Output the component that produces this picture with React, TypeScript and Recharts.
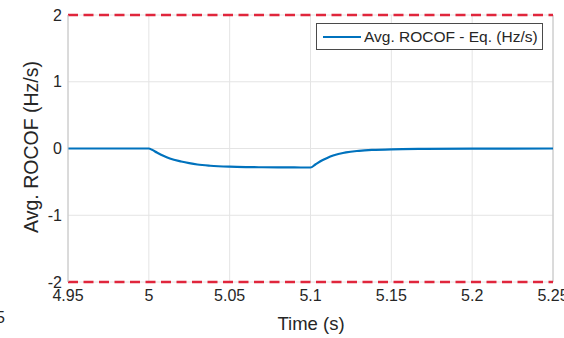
import { LineChart, Line, XAxis, YAxis, CartesianGrid, ReferenceLine, Legend } from 'recharts';

const TIME = [4.95, 5.0, 5.002, 5.005, 5.009, 5.013, 5.02, 5.025, 5.03, 5.038, 5.05, 5.06, 5.07, 5.08, 5.09, 5.1,
  5.103, 5.107, 5.11, 5.114, 5.118, 5.122, 5.13, 5.138, 5.15, 5.17, 5.2, 5.25];
const ROCOF = [0, 0, -0.02, -0.06, -0.11, -0.15, -0.195, -0.22, -0.24, -0.258, -0.272, -0.278, -0.281, -0.283, -0.284, -0.285,
  -0.24, -0.18, -0.145, -0.105, -0.078, -0.057, -0.035, -0.022, -0.012, -0.006, -0.003, 0];

const X_TICKS = [4.95, 5, 5.05, 5.1, 5.15, 5.2, 5.25];
const Y_TICKS = [-2, -1, 0, 1, 2];
const LIMITS = [2, -2];

const SERIES_NAME = 'Avg. ROCOF - Eq. (Hz/s)';
const FONT = '"Liberation Sans", Arial, sans-serif';
const TEXT_COLOR = '#262626';

const data = TIME.map((t, i) => ({ t, v: ROCOF[i] }));

function LegendBox({ payload }: any) {
  const item = payload?.[0];
  if (!item) return null;
  return (
    <div
      style={{
        width: 225,
        height: 25,
        border: '1px solid #4a4a4a',
        background: '#fff',
        display: 'flex',
        alignItems: 'center',
        fontFamily: FONT,
        fontSize: 15.5,
        color: TEXT_COLOR,
        boxSizing: 'content-box',
      }}
    >
      <svg width={42} height={10} style={{ marginLeft: 4 }}>
        <line x1={2} y1={5} x2={40} y2={5} stroke={item.color} strokeWidth={2.2} />
      </svg>
      <span style={{ marginLeft: 1, whiteSpace: 'nowrap' }}>{SERIES_NAME}</span>
    </div>
  );
}

export default function App() {
  return (
    <div style={{ position: 'absolute', left: 0, top: 0, width: 564, height: 338, background: '#fff', overflow: 'hidden' }}>
      <LineChart width={564} height={338} data={data} margin={{ top: 15, right: 11, bottom: 0, left: 0 }}>
        <CartesianGrid stroke="#e4e4e4" strokeWidth={1} />
        <XAxis
          dataKey="t"
          type="number"
          domain={[4.95, 5.25]}
          ticks={X_TICKS}
          tickFormatter={(v) => String(v)}
          height={56}
          axisLine={false}
          tickLine={false}
          tickSize={0}
          tickMargin={8}
          tick={{ fill: TEXT_COLOR, fontSize: 16, fontFamily: FONT }}
          interval={0}
          label={{
            content: () => (
              <text x={311} y={330} textAnchor="middle" fill={TEXT_COLOR} fontSize={18.5} fontFamily={FONT}>
                Time (s)
              </text>
            ),
          }}
        />
        <YAxis
          type="number"
          domain={[-2, 2]}
          ticks={Y_TICKS}
          width={68}
          axisLine={{ stroke: '#c4c4c4' }}
          tickLine={false}
          tickSize={0}
          tickMargin={6}
          tick={{ fill: TEXT_COLOR, fontSize: 16, fontFamily: FONT }}
          interval={0}
          label={{
            content: () => (
              <text
                x={31}
                y={147}
                transform="rotate(-90 31 147)"
                textAnchor="middle"
                dominantBaseline="central"
                fill={TEXT_COLOR}
                fontSize={19.5}
                fontFamily={FONT}
              >
                Avg. ROCOF (Hz/s)
              </text>
            ),
          }}
        />
        <ReferenceLine x={5.25} stroke="#c4c4c4" strokeWidth={1} />
        {LIMITS.map((y) => (
          <ReferenceLine key={y} y={y} stroke="#e0263c" strokeWidth={2.5} strokeDasharray="10 5.5" />
        ))}
        <Line
          type="monotone"
          dataKey="v"
          name={SERIES_NAME}
          stroke="#0072BD"
          strokeWidth={2.2}
          dot={false}
          isAnimationActive={false}
        />
        <Legend
          layout="horizontal"
          verticalAlign="middle"
          align="center"
          content={<LegendBox />}
          wrapperStyle={{ position: 'absolute', left: 316, top: 23, width: 'auto', height: 'auto' }}
        />
      </LineChart>
      <div
        style={{
          position: 'absolute',
          left: -4,
          top: 309,
          fontFamily: FONT,
          fontSize: 16,
          color: TEXT_COLOR,
        }}
      >
        5
      </div>
    </div>
  );
}
